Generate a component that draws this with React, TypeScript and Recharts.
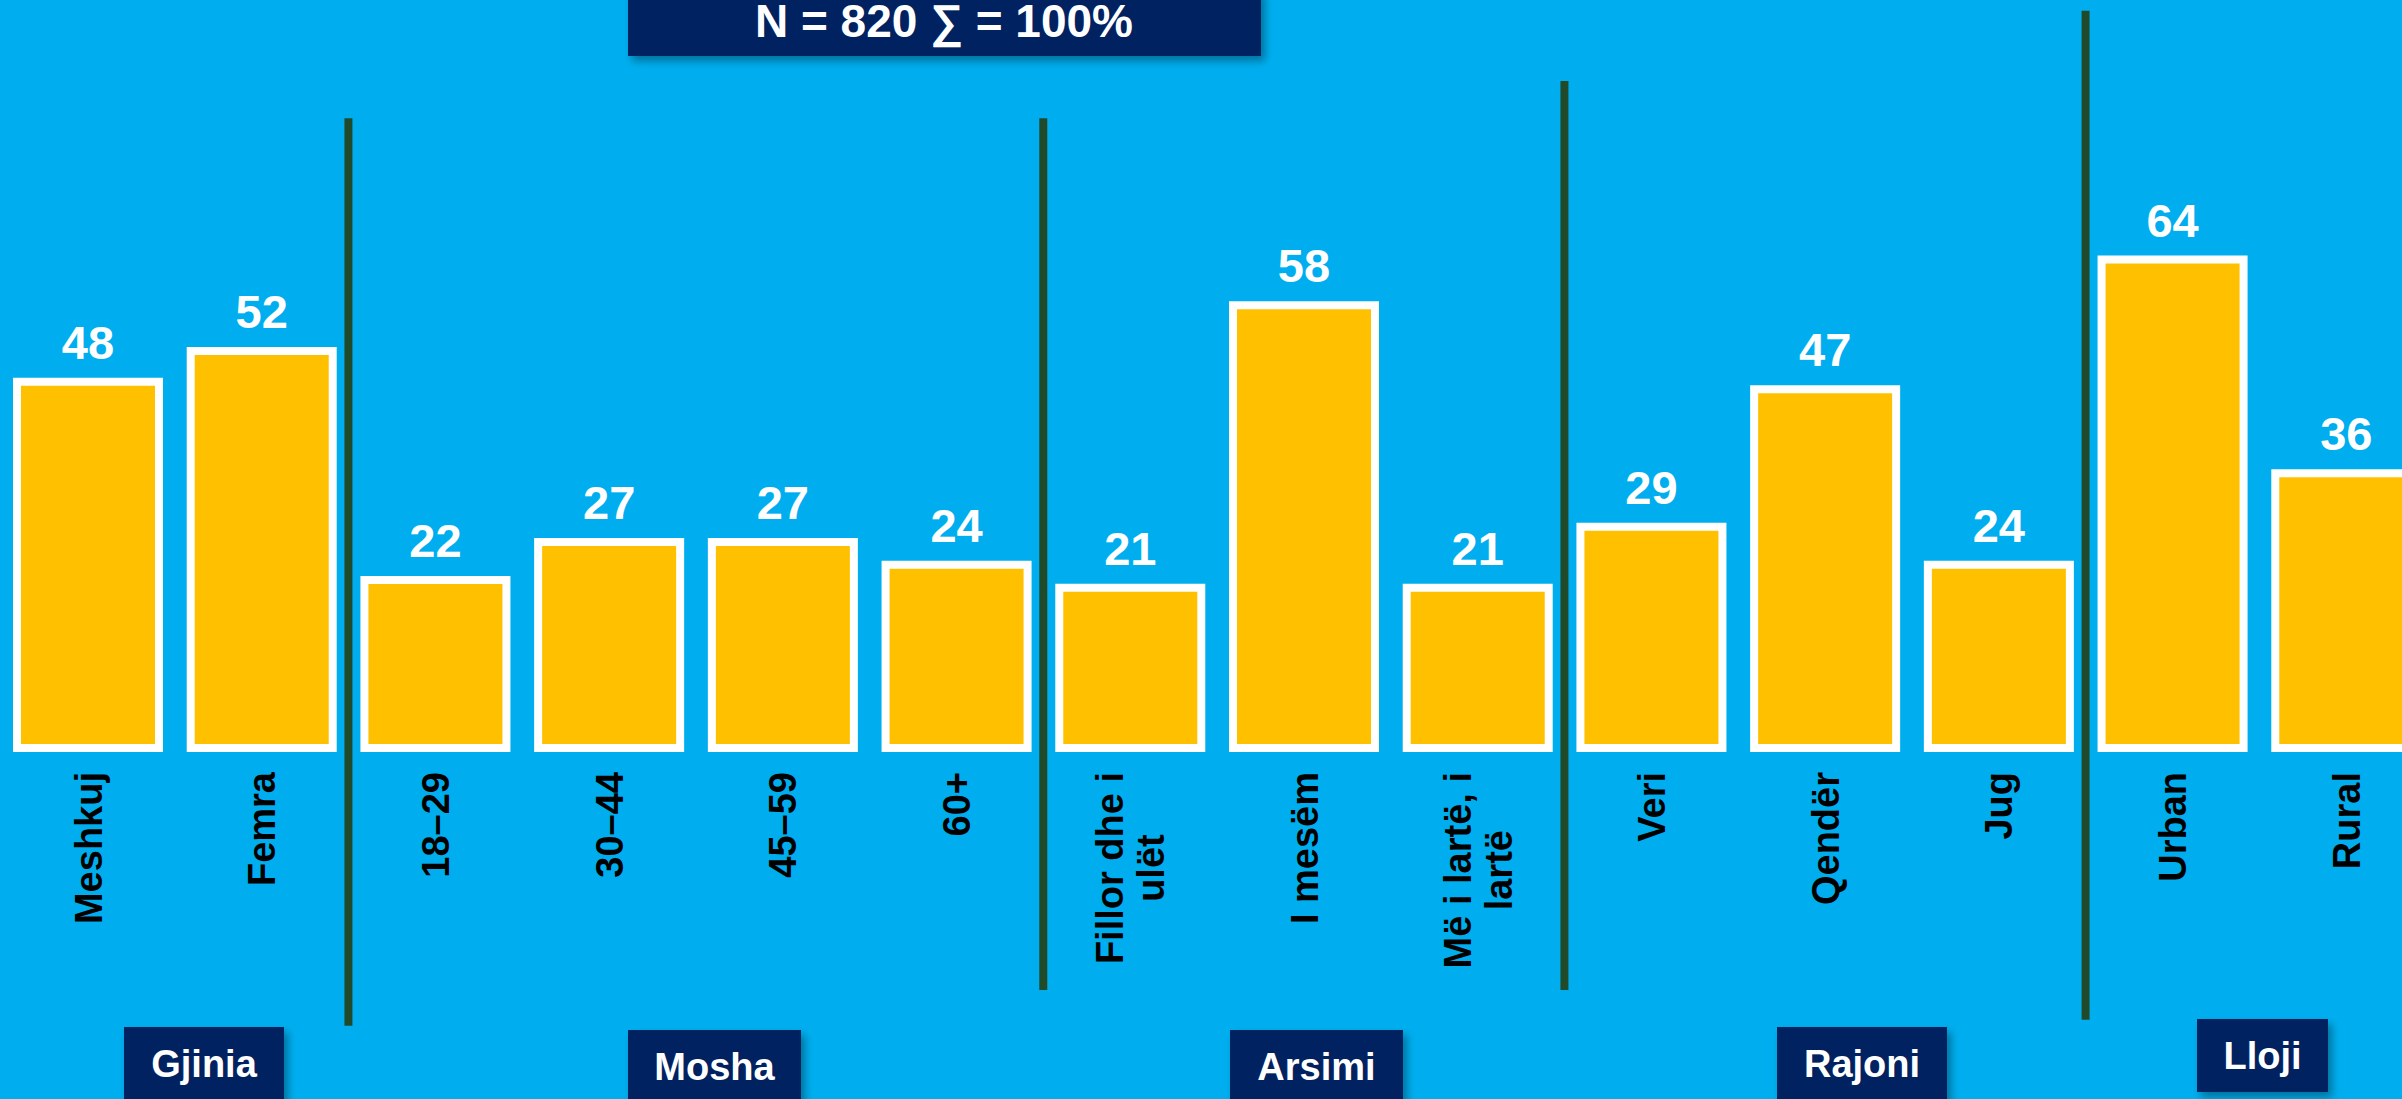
import { Bar, BarChart, LabelList, ReferenceLine, XAxis, YAxis } from "recharts";

const categories = [
  "Meshkuj",
  "Femra",
  "18–29",
  "30–44",
  "45–59",
  "60+",
  "Fillor dhe i ulët",
  "I mesëm",
  "Më i lartë, i lartë",
  "Veri",
  "Qendër",
  "Jug",
  "Urban",
  "Rural",
];

const shares = [48, 52, 22, 27, 27, 24, 21, 58, 21, 29, 47, 24, 64, 36];

const groupNames = ["Gjinia", "Mosha", "Arsimi", "Rajoni", "Lloji"];

// first category of each group after the first one -> a divider line
const dividerAt = ["18–29", "Fillor dhe i ulët", "Veri", "Urban"];
// vertical reach of each divider, in chart units (it runs past the axis)
const dividerTop = [82.5, 82.5, 87.4, 96.6];
const dividerBottom = [-36.4, -31.7, -31.7, -35.6];

const title = "N = 820 ∑ = 100%";

const data = categories.map((name, i) => ({ name, value: shares[i] }));

// layout of the navy label boxes (pixels)
const groupBoxes = [
  { x: 124, y: 1027, w: 160, h: 90 },
  { x: 628, y: 1030, w: 173, h: 90 },
  { x: 1230, y: 1030, w: 173, h: 90 },
  { x: 1777, y: 1027, w: 170, h: 90 },
  { x: 2197, y: 1019, w: 131, h: 73 },
];

const FONT = "'Liberation Sans', Arial, sans-serif";
const BLUE = "#00AEEF";
const NAVY = "#002060";
const DIVIDER = "#214A2B";

let ctx: CanvasRenderingContext2D | null = null;
function measure(text: string) {
  if (!ctx) {
    ctx = document.createElement("canvas").getContext("2d");
    if (ctx) ctx.font = `bold 38px ${FONT}`;
  }
  return ctx ? ctx.measureText(text).width : text.length * 21;
}

function wrap(text: string, maxWidth: number) {
  const words = text.split(" ");
  const lines: string[] = [];
  let cur = "";
  for (const w of words) {
    const next = cur ? cur + " " + w : w;
    if (cur && measure(next) > maxWidth) {
      lines.push(cur);
      cur = w;
    } else {
      cur = next;
    }
  }
  if (cur) lines.push(cur);
  return lines;
}

function CategoryTick(props: any) {
  const { x, y, payload } = props;
  const lines = wrap(String(payload.value), 215);
  const maxW = Math.max(...lines.map(measure));
  const top = y + 24;
  const lh = 41;
  return (
    <g transform={`translate(${x},${top + maxW / 2}) rotate(-90)`}>
      {lines.map((line, i) => (
        <text
          key={i}
          x={0}
          y={(i - (lines.length - 1) / 2) * lh}
          dy="0.36em"
          textAnchor="middle"
          fill="#000"
          fontFamily={FONT}
          fontWeight="bold"
          fontSize={38}
        >
          {line}
        </text>
      ))}
    </g>
  );
}

export default function App() {
  return (
    <div
      style={{
        position: "absolute",
        left: 0,
        top: 0,
        width: 2402,
        height: 1099,
        overflow: "hidden",
        background: BLUE,
        fontFamily: FONT,
      }}
    >
      <BarChart
        width={2434}
        height={1099}
        data={data}
        margin={{ top: 0, right: 1, bottom: 0, left: 1 }}
        barSize={142}
      >
        <XAxis
          dataKey="name"
          interval={0}
          height={351}
          tickSize={0}
          tickMargin={0}
          axisLine={false}
          tickLine={false}
          tick={<CategoryTick />}
        />
        <YAxis hide domain={[0, 98]} />
        <Bar dataKey="value" fill="#FFC000" stroke="#FFFFFF" strokeWidth={8} isAnimationActive={false}>
          <LabelList
            dataKey="value"
            position="top"
            offset={23}
            fill="#FFFFFF"
            fontSize={47}
            fontWeight="bold"
            fontFamily={FONT}
          />
        </Bar>
        {dividerAt.map((cat, i) => (
          <ReferenceLine
            key={cat}
            segment={[
              { x: cat, y: dividerTop[i] },
              { x: cat, y: dividerBottom[i] },
            ]}
            position="start"
            stroke={DIVIDER}
            strokeWidth={8}
            ifOverflow="visible"
          />
        ))}
      </BarChart>

      <svg
        width={2402}
        height={1099}
        style={{ position: "absolute", left: 0, top: 0, pointerEvents: "none" }}
      >
        <defs>
          <filter id="shadow" x="-20%" y="-20%" width="140%" height="160%">
            <feDropShadow dx="4" dy="5" stdDeviation="4" floodColor="#000" floodOpacity="0.35" />
          </filter>
        </defs>
        <rect x={628} y={-10} width={633} height={66} fill={NAVY} filter="url(#shadow)" />
        <text
          x={944}
          y={37}
          textAnchor="middle"
          fill="#FFFFFF"
          fontFamily={FONT}
          fontWeight="bold"
          fontSize={46}
        >
          {title}
        </text>
        {groupNames.map((name, i) => {
          const b = groupBoxes[i];
          return (
            <g key={name}>
              <rect x={b.x} y={b.y} width={b.w} height={b.h} fill={NAVY} filter="url(#shadow)" />
              <text
                x={b.x + b.w / 2}
                y={b.y + 50}
                textAnchor="middle"
                fill="#FFFFFF"
                fontFamily={FONT}
                fontWeight="bold"
                fontSize={38}
              >
                {name}
              </text>
            </g>
          );
        })}
      </svg>
    </div>
  );
}
